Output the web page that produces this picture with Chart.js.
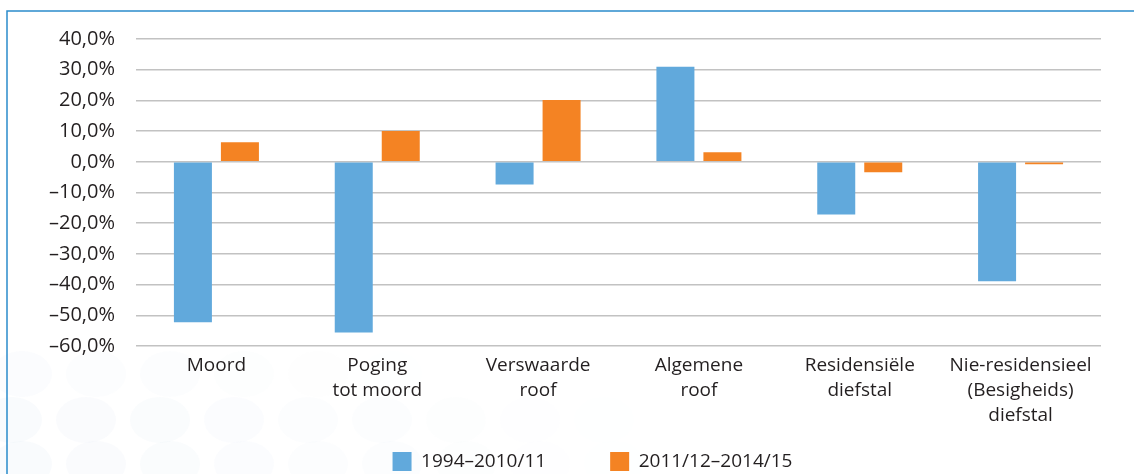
<!DOCTYPE html>
<html>
<head>
<meta charset="utf-8">
<script src="https://cdn.jsdelivr.net/npm/chart.js@4/dist/chart.umd.min.js"></script>
<style>
    html, body { margin: 0; padding: 0; background: #ffffff; }
    #wrap { position: relative; width: 1134px; height: 474px; }
</style>
</head>
<body>
<div id="wrap"><canvas id="crimeChart"></canvas></div>
<script>
const categories = [
    ["Moord"],
    ["Poging", "tot moord"],
    ["Verswaarde", "roof"],
    ["Algemene", "roof"],
    ["Residensiële", "diefstal"],
    ["Nie-residensieel", "(Besigheids)", "diefstal"]
];

const seriesLabels = ["1994–2010/11", "2011/12–2014/15"];
const period1 = [-52.3, -55.6, -7.4, 31.0, -17.2, -38.9];
const period2 = [6.4, 10.0, 20.1, 3.1, -3.4, -0.8];

const yMin = -60;
const yMax = 40;
const yStep = 10;

const textColor = "#231f20";
const fontFamily = "'Open Sans', 'Noto Sans', sans-serif";

function formatPercent(v) {
    const s = Math.abs(v).toFixed(1).replace(".", ",") + "%";
    return v < 0 ? "–" + s : s;
}

// faint dotted background in the lower-left + the blue frame
const decor = {
    id: "decor",
    afterLayout(chart) {
        // let the tick labels run outside their scale boxes without being clipped
        chart.scales.y.left = 0;
        chart.scales.x.bottom = chart.height;
    },
    beforeDraw(chart) {
        const c = chart.ctx;
        c.save();
        const rows = [374, 420, 464];
        rows.forEach((y, r) => {
            for (let i = 0; i < 9; i++) {
                const x = 22 + i * 74 + (r % 2 ? -10 : 0);
                const a = 0.22 - i * 0.025 - (r === 0 ? 0.07 : 0);
                if (a <= 0) continue;
                c.fillStyle = "rgba(228, 236, 245," + a + ")";
                c.beginPath();
                c.ellipse(x, y, 30, 23, 0, 0, Math.PI * 2);
                c.fill();
            }
        });
        c.strokeStyle = "#2b8ccc";
        c.lineWidth = 1.5;
        c.beginPath();
        c.moveTo(7, 474);
        c.lineTo(7, 11);
        c.lineTo(1134, 11);
        c.stroke();
        c.restore();
    }
};

const ctx = document.getElementById("crimeChart").getContext("2d");

new Chart(ctx, {
    type: "bar",
    data: {
        labels: categories,
        datasets: [
            {
                label: seriesLabels[0],
                data: period1,
                backgroundColor: "#61a9dc",
                categoryPercentage: 0.5845,
                barPercentage: 0.8085
            },
            {
                label: seriesLabels[1],
                data: period2,
                backgroundColor: "#f48323",
                categoryPercentage: 0.5845,
                barPercentage: 0.8085
            }
        ]
    },
    options: {
        responsive: true,
        maintainAspectRatio: false,
        animation: false,
        layout: {
            padding: { left: 84, right: 33, top: 39, bottom: -7 }
        },
        scales: {
            x: {
                grid: { display: false, drawTicks: false },
                border: { display: false },
                ticks: {
                    color: textColor,
                    padding: 7,
                    maxRotation: 0,
                    autoSkip: false,
                    font: { family: fontFamily, size: 19, lineHeight: 1.32 }
                },
                afterFit(scale) {
                    scale.height = 42;
                }
            },
            y: {
                min: yMin,
                max: yMax,
                border: { display: false },
                grid: {
                    color: "#c2c2c2",
                    lineWidth: 1.5,
                    drawTicks: false
                },
                ticks: {
                    stepSize: yStep,
                    color: textColor,
                    padding: 21,
                    font: { family: fontFamily, size: 20 },
                    callback: (v) => formatPercent(v)
                },
                afterFit(scale) {
                    scale.width = 52;
                }
            }
        },
        plugins: {
            legend: {
                position: "bottom",
                labels: {
                    color: textColor,
                    boxWidth: 19,
                    boxHeight: 19,
                    padding: 64,
                    font: { family: fontFamily, size: 19 }
                }
            },
            tooltip: { enabled: false }
        }
    },
    plugins: [decor]
});
</script>
</body>
</html>
